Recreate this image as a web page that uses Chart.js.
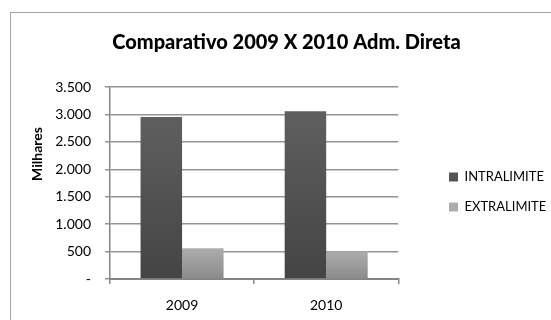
<!DOCTYPE html>
<html>
<head>
<meta charset="utf-8">
<script src="https://cdn.jsdelivr.net/npm/chart.js@4.4.1/dist/chart.umd.min.js"></script>
<style>
  html, body { margin: 0; padding: 0; background: #fff; overflow: hidden; }
  #wrap { position: relative; width: 551px; height: 320px; }
  #frame { position: absolute; left: 10px; top: 12px; width: 600px; height: 400px;
           border-left: 1px solid #a6a6a6; border-top: 1px solid #a6a6a6; }
  canvas { position: absolute; left: 0; top: 0; }
</style>
</head>
<body>
<div id="wrap">
  <div id="frame"></div>
  <canvas id="c" width="551" height="320"></canvas>
</div>
<script>
const categories = ['2009', '2010'];
const intralimite = [2955, 3060];
const extralimite = [560, 500];
const yTicks = [0, 500, 1000, 1500, 2000, 2500, 3000, 3500];
const chartTitle = 'Comparativo 2009 X 2010 Adm. Direta';
const yTitle = 'Milhares';

const FONT = 'Lato, "Liberation Sans", sans-serif';

function barGradient(top, bottom) {
  return function (ctx) {
    if (ctx.type !== 'data') return top;
    const chart = ctx.chart;
    const y = chart.scales.y;
    if (!y) return top;
    const y0 = y.getPixelForValue(0);
    const y1 = y.getPixelForValue(ctx.raw);
    if (!isFinite(y0) || !isFinite(y1) || y0 === y1) return top;
    const g = chart.ctx.createLinearGradient(0, y1, 0, y0);
    g.addColorStop(0, top);
    g.addColorStop(1, bottom);
    return g;
  };
}

const placePlugin = {
  id: 'place',
  afterLayout(chart) {
    // move the legend box to the reference's position (right of plot)
    const L = chart.legend;
    if (L) {
      const w = L.right - L.left;
      L.left = 449 - 17;
      L.right = L.left + w;
      L.top += 32;
      L.bottom += 32;
    }
    // the title is centred on the original (wider) frame
    const T = chart.titleBlock;
    if (T) {
      T.left += 11;
      T.right += 11;
    }
  },
  afterDraw(chart) {
    const c = chart.ctx;
    c.save();
    c.translate(37, 154);
    c.rotate(-Math.PI / 2);
    c.font = 'bold 14px ' + FONT;
    c.fillStyle = '#000';
    c.textAlign = 'center';
    c.textBaseline = 'middle';
    c.fillText(yTitle, 0, 0);
    c.restore();
  }
};

new Chart(document.getElementById('c'), {
  type: 'bar',
  data: {
    labels: categories,
    datasets: [
      { label: 'INTRALIMITE', data: intralimite,
        backgroundColor: barGradient('#5f5f5f', '#444444') },
      { label: 'EXTRALIMITE', data: extralimite,
        backgroundColor: barGradient('#adadad', '#8a8a8a') }
    ]
  },
  options: {
    responsive: false,
    animation: false,
    devicePixelRatio: 1,
    categoryPercentage: 0.576,
    barPercentage: 1,
    layout: { padding: { left: 30, right: 30, top: 0, bottom: 0 } },
    plugins: {
      title: {
        display: true, text: chartTitle, color: '#000',
        font: { family: FONT, size: 20, weight: 900 },
        padding: { top: 31, bottom: 32 }
      },
      legend: {
        position: 'right',
        labels: {
          boxWidth: 9, boxHeight: 9, padding: 17, color: '#000',
          font: { family: FONT, size: 13 }
        }
      },
      tooltip: { enabled: false }
    },
    scales: {
      x: {
        grid: { display: true, drawOnChartArea: false, offset: true,
                color: '#8a8a8a', lineWidth: 1.5, tickLength: 5 },
        border: { color: '#858585', width: 2 },
        ticks: { color: '#000', font: { family: FONT, size: 14 }, padding: 13 },
        afterFit(s) { s.height = 41; }
      },
      y: {
        min: 0, max: 3500,
        afterBuildTicks(s) { s.ticks = yTicks.map(v => ({ value: v })); },
        grid: { color: '#939393', lineWidth: 1.5, tickLength: 5 },
        border: { color: '#858585', width: 1.5 },
        ticks: {
          color: '#000', font: { family: FONT, size: 14 }, padding: 14,
          callback: v => v === 0 ? '-' : v.toLocaleString('de-DE')
        },
        afterFit(s) { s.width = 80; }
      }
    }
  },
  plugins: [placePlugin]
});
</script>
</body>
</html>
